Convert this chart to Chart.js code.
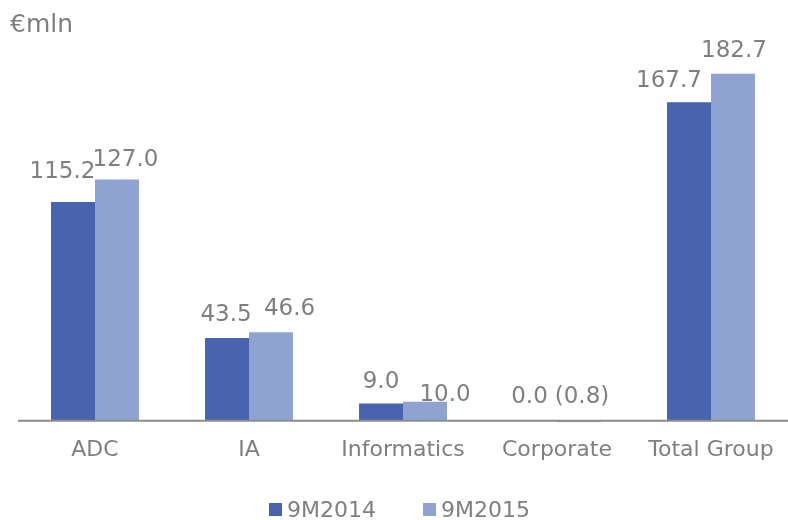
<!DOCTYPE html>
<html>
<head>
<meta charset="utf-8">
<script src="https://cdn.jsdelivr.net/npm/chart.js@4.4.0/dist/chart.umd.min.js"></script>
<style>
  html, body { margin: 0; padding: 0; background: #fff; }
  #wrap { position: relative; width: 788px; height: 520px; }
</style>
</head>
<body>
<div id="wrap"><canvas id="chart" width="788" height="520"></canvas></div>
<script>
const categories = ['ADC', 'IA', 'Informatics', 'Corporate', 'Total Group'];
const seriesNames = ['9M2014', '9M2015'];
const values2014 = [115.2, 43.5, 9.0, 0.0, 167.7];
const values2015 = [127.0, 46.6, 10.0, -0.8, 182.7];

const colors = ['#4864ae', '#8fa3d2'];
const textColor = '#7f7f7f';
const fontFamily = '"DejaVu Sans", Verdana, sans-serif';

// label nudges so neighbouring value labels don't collide
const labelShift = [
  { dx: [-10.5, -1, 0, -5.5, -20], dy: [-7, 0, 1, -1, 2] },
  { dx: [8.5, 18.5, 20, 3, 1], dy: [3, 0, 16, -1, 0] }
];

function fmt(v) {
  return v < 0 ? '(' + Math.abs(v).toFixed(1) + ')' : v.toFixed(1);
}

const extras = {
  id: 'extras',
  afterDatasetsDraw(chart) {
    const ctx = chart.ctx;
    const y0 = chart.scales.y.getPixelForValue(0);
    const area = chart.chartArea;

    // zero line
    ctx.save();
    ctx.strokeStyle = '#8c8c8c';
    ctx.lineWidth = 2;
    ctx.beginPath();
    ctx.moveTo(area.left, y0);
    ctx.lineTo(area.right, y0);
    ctx.stroke();

    // value labels
    ctx.font = '23px ' + fontFamily;
    ctx.fillStyle = textColor;
    ctx.textAlign = 'center';
    ctx.textBaseline = 'alphabetic';
    chart.data.datasets.forEach((ds, i) => {
      chart.getDatasetMeta(i).data.forEach((bar, j) => {
        const v = ds.data[j];
        const top = v >= 0 ? bar.y : y0;
        ctx.fillText(fmt(v), bar.x + labelShift[i].dx[j], top - 17 + labelShift[i].dy[j]);
      });
    });

    // unit
    ctx.textAlign = 'left';
    ctx.font = '25px ' + fontFamily;
    ctx.fillText('€mln', 10, 32);

    // legend
    ctx.font = '22px ' + fontFamily;
    const legendX = [269, 423];
    seriesNames.forEach((name, i) => {
      ctx.fillStyle = colors[i];
      ctx.fillRect(legendX[i], 503, 13, 13);
      ctx.fillStyle = textColor;
      ctx.fillText(name, legendX[i] + 18, 517);
    });
    ctx.restore();
  }
};

new Chart(document.getElementById('chart'), {
  type: 'bar',
  data: {
    labels: categories,
    datasets: [
      { label: seriesNames[0], data: values2014, backgroundColor: colors[0] },
      { label: seriesNames[1], data: values2015, backgroundColor: colors[1] }
    ]
  },
  options: {
    responsive: false,
    animation: false,
    devicePixelRatio: 1,
    layout: { padding: { left: 18, right: 0, top: 41, bottom: 43 } },
    datasets: { bar: { barPercentage: 1, categoryPercentage: 0.571 } },
    scales: {
      x: {
        grid: { display: false, drawTicks: false },
        border: { display: false },
        ticks: { color: textColor, font: { family: fontFamily, size: 22 }, padding: 14 }
      },
      y: {
        display: false,
        min: -1,
        max: 200
      }
    },
    plugins: {
      legend: { display: false },
      tooltip: { enabled: false }
    }
  },
  plugins: [extras]
});
</script>
</body>
</html>
